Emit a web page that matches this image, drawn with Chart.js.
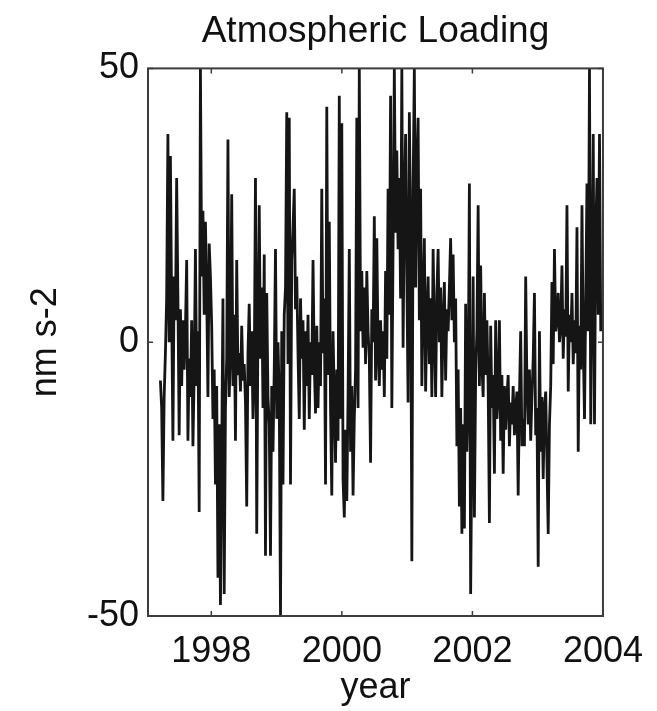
<!DOCTYPE html>
<html>
<head>
<meta charset="utf-8">
<title>Atmospheric Loading</title>
<script src="https://cdn.jsdelivr.net/npm/chart.js@4.4.1/dist/chart.umd.min.js"></script>
<style>
  html, body { margin: 0; padding: 0; background: #fff; }
  canvas { display: block; }
</style>
</head>
<body>
<canvas id="loadingChart" width="657" height="711"></canvas>
<script>
// weekly samples of atmospheric loading (nm s-2)
const startYear = 1997.22;
const stepYears = 7 / 365.25;
const loading = [
    -7, -12, -29, -10,   -2, 8, 38, 0,      34, 6, -18, 12,     4, 30, 8, -17,
    6, -8, 4, -5,        2, 15, -18, -3,    -10, 4, -19, -6,    17, -8, 2, -31,
    50, 12, 24, 5,       22, 9, -10, 18,    12, 3, -14, -5,     -26, -8, -43, -15,
    -48, -20, 8, -46,    -12, -3, 37, -10,  -2, 27, -8, 5,      -18, 15, -6,
    -2, -9, 3, -7,       -4, -11, -30, -2,  7, -8, 2, -14,      -6, 30, -35, 4,
    25, -3, 10, -12,     16, -39, 9, -10,   -15, -39, -8, -20,  -5, 17, -14, 0,
    -10, -50, 2, -26,    5, 10, 42, -4,     41, -26, 15, 21,    28, 6, 12, -2,
    -14, 8, -3, 4,       -16, 2, -8, 5,     -14, 0, -6, 15,     -4, -13, 3, -12,
    0, -8, 28, -2,       8, -26, 43, -6,    22, -12, -28, 2,    -10, -22, -5, -18,
    45, -14, 40, -25,    -32, -16, -29, -10, 17, -20, -8, -28,  -14, -5, 41, -12,
    50, 2, 13, -1,       10, -4, 13, 2,     -3, -22, 6, 0,      23, -7, 19, -2,
    -8, 4, -5, 2,        -10, 13, -3, 28,   5, 45, -12, 18,     50, 20, 35,
    17, 30, 8, 50,       -1, 25, 38, 12,    -11, 42, 20, -40,   28, 50, 10, 32,
    41, 4, 28, -8,       8, 19, -9, 5,      12, -4, 8, -10,     17, 2, -10, 9,
    17, 0, 10, -10,      4, 11, -7, 6,      2, 10, 19, 4,       16, 0, 8, -19,
    -5, -30, -12, -35,   -15, -34, 7, -20,  -10, 29, -46, -18,  12, -32, -6, 2,
    25, -8, 14, -4,      -10, 9, -6, 4,     -8, -33, 3, -12,    -6, -24, 4, -14,
    -10, 4, -18, -6,     -24, -8, -16, -10, -6, -19, -11, -15,  -8, -17, -12, -9,
    -28, -10, 2, -19,    -14, -19, 12, -8,  -15, -5, -18, -10,  -3, 9, -17, -12,
    -41, 2, -20, -10,    -25, -12, -9, -22, -35, -15, -8,
    11, -4, 17, 2,       4, 9, 0, 3,        14, -3, 6, 1,       25, -9, 5, 0,
    9, -4, 4, -2,        21, -20, 3, -5,    25, 0, -14, 8,      29, 2, 50, -15,
    10, 38, -15, 20,     30, 5, 38, 2
];
const xTicks = [1998, 2000, 2002, 2004];
const yTicks = [-50, 0, 50];

const FONT = "'Liberation Sans', Arial, Helvetica, sans-serif";
const INK = "#111";

// matlab style box with inward ticks
const boxPlugin = {
    id: "box",
    afterDraw(chart) {
        const { ctx, chartArea: a, scales: { x, y } } = chart;
        ctx.save();
        ctx.strokeStyle = "#3c3c3c";
        ctx.lineWidth = 2;
        ctx.strokeRect(a.left, a.top, a.right - a.left, a.bottom - a.top);
        ctx.lineWidth = 1.5;
        ctx.beginPath();
        xTicks.forEach(v => {
            const px = x.getPixelForValue(v);
            ctx.moveTo(px, a.bottom); ctx.lineTo(px, a.bottom - 5);
            ctx.moveTo(px, a.top); ctx.lineTo(px, a.top + 5);
        });
        yTicks.forEach(v => {
            const py = y.getPixelForValue(v);
            ctx.moveTo(a.left, py); ctx.lineTo(a.left + 5, py);
            ctx.moveTo(a.right, py); ctx.lineTo(a.right - 5, py);
        });
        ctx.stroke();
        ctx.restore();
    }
};

new Chart(document.getElementById("loadingChart"), {
    type: "line",
    data: {
        datasets: [{
            data: loading.map((v, i) => ({ x: startYear + i * stepYears, y: v })),
            borderColor: "#151515",
            borderWidth: 2.8,
            borderJoinStyle: "miter",
            pointRadius: 0,
            tension: 0,
            fill: false
        }]
    },
    options: {
        responsive: false,
        animation: false,
        layout: { padding: { left: 0, right: 53, top: 0, bottom: 0 } },
        plugins: {
            legend: { display: false },
            tooltip: { enabled: false },
            title: {
                display: true,
                text: "Atmospheric Loading",
                fullSize: false,
                color: INK,
                font: { family: FONT, size: 37, weight: "normal" },
                padding: { top: 10, bottom: 14 }
            }
        },
        scales: {
            x: {
                type: "linear",
                min: 1997.03,
                max: 2004,
                grid: { display: false, drawTicks: false },
                border: { display: false },
                afterBuildTicks: s => { s.ticks = xTicks.map(v => ({ value: v })); },
                afterFit: s => { s.height = 95; },
                ticks: {
                    color: INK,
                    padding: 14,
                    maxRotation: 0,
                    font: { family: FONT, size: 36 },
                    callback: v => String(v)
                },
                title: {
                    display: true,
                    text: "year",
                    color: INK,
                    font: { family: FONT, size: 36 },
                    padding: { top: 0, bottom: 1 }
                }
            },
            y: {
                min: -50,
                max: 50,
                grid: { display: false, drawTicks: false },
                border: { display: false },
                afterBuildTicks: s => { s.ticks = yTicks.map(v => ({ value: v })); },
                afterFit: s => { s.width = 148; },
                ticks: {
                    color: INK,
                    padding: 9,
                    font: { family: FONT, size: 36 },
                    callback: v => String(v)
                },
                title: {
                    display: true,
                    text: "nm s-2",
                    color: INK,
                    font: { family: FONT, size: 36 },
                    padding: { top: 24, bottom: 0 }
                }
            }
        }
    },
    plugins: [boxPlugin]
});
</script>
</body>
</html>
